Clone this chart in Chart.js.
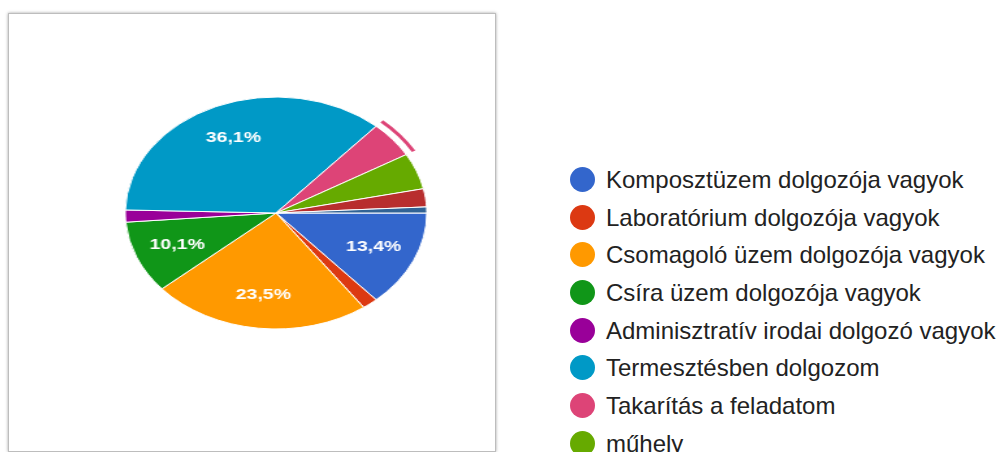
<!DOCTYPE html>
<html>
<head>
<meta charset="utf-8">
<script src="https://cdn.jsdelivr.net/npm/chart.js@4/dist/chart.umd.min.js"></script>
<style>
    html, body { margin: 0; padding: 0; background: #fff; overflow: hidden; }
    body { width: 999px; height: 452px; position: relative; font-family: Arial, "Liberation Sans", sans-serif; }
    #frame {
        position: absolute; left: 8px; top: 13px; width: 486px; height: 437px;
        border: 1px solid #bdbdbd; box-shadow: 0 0 3px rgba(0,0,0,0.35); background: #fff;
    }
    #pie {
        position: absolute; left: 150px; top: 87px; width: 252px; height: 252px;
        transform: scaleX(1.3); transform-origin: 126px 126px;
    }
    #legend { position: absolute; left: 570px; top: 167px; margin: 0; padding: 0; list-style: none; }
    #legend li { height: 37.7px; display: flex; align-items: flex-start; white-space: nowrap; }
    #legend .dot { width: 25px; height: 25px; border-radius: 50%; margin-right: 11px; flex: none; }
    #legend .txt { font-size: 24px; line-height: 25px; color: #222; }
</style>
</head>
<body>
<div id="frame"></div>
<canvas id="pie" width="252" height="252"></canvas>
<ul id="legend"></ul>
<script>
    var labels = [
        'Komposztüzem dolgozója vagyok',
        'Laboratórium dolgozója vagyok',
        'Csomagoló üzem dolgozója vagyok',
        'Csíra üzem dolgozója vagyok',
        'Adminisztratív irodai dolgozó vagyok',
        'Termesztésben dolgozom',
        'Takarítás a feladatom',
        'műhely',
        'Egyéb',
        'Karbantartás'
    ];
    var counts = [16, 2, 28, 12, 2, 43, 6, 6, 3, 1];
    var colors = ['#3366cc', '#dc3912', '#ff9900', '#109618', '#990099',
                  '#0099c6', '#dd4477', '#66aa00', '#b82e2e', '#316395'];
    var hoveredIndex = 6;

    var total = counts.reduce(function (a, b) { return a + b; }, 0);

    // legend
    var legend = document.getElementById('legend');
    labels.forEach(function (name, i) {
        var li = document.createElement('li');
        li.innerHTML = '<span class="dot" style="background:' + colors[i] + '"></span><span class="txt"></span>';
        li.querySelector('.txt').textContent = name;
        legend.appendChild(li);
    });

    var hoverColors = colors.map(function (c, i) {
        return i === hoveredIndex ? c : 'rgba(0,0,0,0)';
    });
    var clear = colors.map(function () { return 'rgba(0,0,0,0)'; });

    var sliceLabels = {
        id: 'sliceLabels',
        afterDatasetsDraw: function (chart) {
            var meta = chart.getDatasetMeta(2);
            var ctx = chart.ctx;
            ctx.save();
            ctx.fillStyle = '#fff';
            ctx.font = 'bold 15px Arial, "Liberation Sans", sans-serif';
            ctx.textAlign = 'center';
            ctx.textBaseline = 'middle';
            meta.data.forEach(function (arc, i) {
                var share = counts[i] / total * 100;
                if (share < 10) return;
                var mid = (arc.startAngle + arc.endAngle) / 2;
                var r = arc.outerRadius * 0.71;
                var x = arc.x + Math.cos(mid) * r;
                var y = arc.y + Math.sin(mid) * r;
                ctx.fillText(share.toFixed(1).replace('.', ',') + '%', x, y);
            });
            ctx.restore();
        }
    };

    new Chart(document.getElementById('pie').getContext('2d'), {
        type: 'pie',
        data: {
            labels: labels,
            datasets: [
                { data: counts, backgroundColor: hoverColors, borderWidth: 0, weight: 3 },
                { data: counts, backgroundColor: clear, borderWidth: 0, weight: 5 },
                { data: counts, backgroundColor: colors, borderColor: '#fff', borderWidth: 1, weight: 116 }
            ]
        },
        options: {
            responsive: false,
            animation: false,
            events: [],
            rotation: 90,
            radius: 124,
            plugins: {
                legend: { display: false },
                tooltip: { enabled: false }
            }
        },
        plugins: [sliceLabels]
    });
</script>
</body>
</html>
